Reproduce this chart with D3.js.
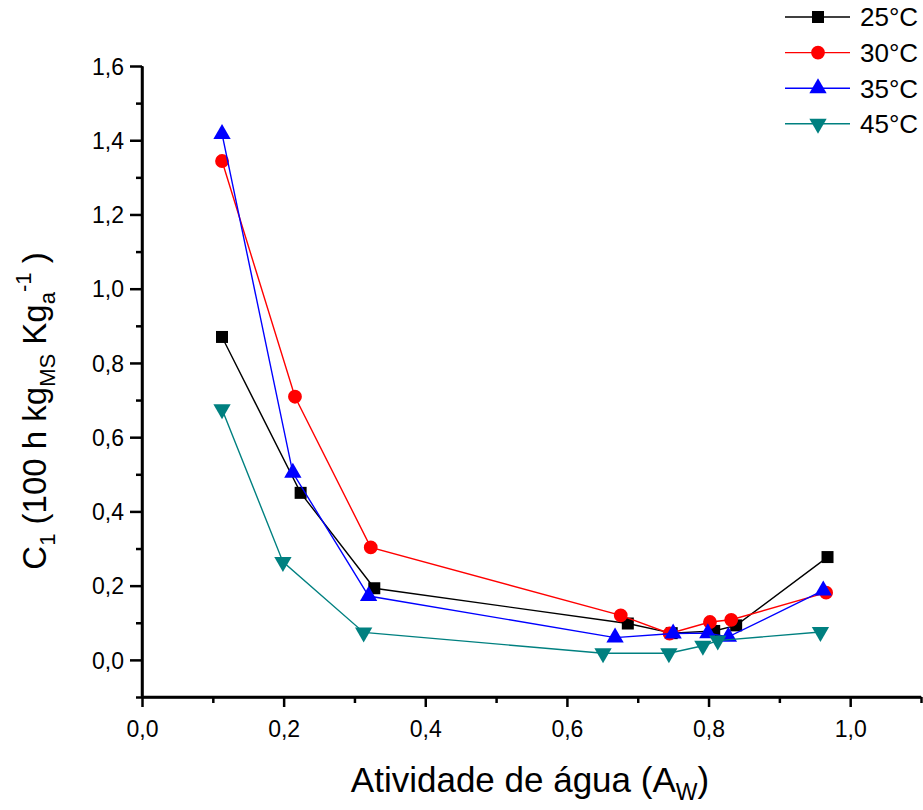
<!DOCTYPE html>
<html>
<head>
<meta charset="utf-8">
<script src="https://cdn.jsdelivr.net/npm/d3@7"></script>
<style>
  body { margin: 0; background: #fff; }
  svg { font-family: Arial, "Liberation Sans", sans-serif; }
</style>
</head>
<body>
<div id="chart"></div>
<script>
// data
const seriesNames = ["25°C", "30°C", "35°C", "45°C"];
const seriesColors = ["#000000", "#ff0000", "#0000ff", "#008080"];

const aw25 = [0.113, 0.224, 0.328, 0.686, 0.748, 0.808, 0.839, 0.968];
const c25 = [0.870, 0.450, 0.193, 0.098, 0.072, 0.078, 0.093, 0.277];
const aw30 = [0.113, 0.216, 0.323, 0.676, 0.745, 0.802, 0.832, 0.966];
const c30 = [1.344, 0.709, 0.303, 0.120, 0.071, 0.102, 0.108, 0.181];
const aw35 = [0.113, 0.213, 0.320, 0.668, 0.750, 0.799, 0.828, 0.962];
const c35 = [1.417, 0.504, 0.172, 0.060, 0.071, 0.072, 0.062, 0.187];
const aw45 = [0.113, 0.199, 0.313, 0.651, 0.744, 0.792, 0.813, 0.958];
const c45 = [0.675, 0.264, 0.074, 0.018, 0.018, 0.038, 0.052, 0.075];

const xTicks = [0, 0.2, 0.4, 0.6, 0.8, 1.0];
const yTicks = [0, 0.2, 0.4, 0.6, 0.8, 1.0, 1.2, 1.4, 1.6];

const svgWidth = 923;
const svgHeight = 810;

const margin = { top: 66, right: 2, bottom: 113, left: 142 };
const width = svgWidth - margin.left - margin.right;
const height = svgHeight - margin.top - margin.bottom;

const svg = d3.select("#chart")
  .append("svg")
  .attr("width", svgWidth)
  .attr("height", svgHeight);

const chartGroup = svg.append("g")
  .attr("transform", `translate(${margin.left}, ${margin.top})`);

const xScale = d3.scaleLinear().domain([0, 1.1]).range([0, width]);
const yScale = d3.scaleLinear().domain([-0.1, 1.6]).range([height, 0]);

const fmt = d => d3.format(".1f")(d).replace(".", ",");

// x axis: major ticks with labels, minor ticks in between
const xAxis = chartGroup.append("g")
  .attr("transform", `translate(0, ${height})`)
  .call(d3.axisBottom(xScale).tickValues(xTicks).tickFormat(fmt)
    .tickSizeInner(10).tickSizeOuter(0).tickPadding(14));
xAxis.append("g")
  .call(d3.axisBottom(xScale).tickValues(d3.range(1, 12, 2).map(d => d / 10))
    .tickFormat("").tickSizeInner(6).tickSizeOuter(0));

const yAxis = chartGroup.append("g")
  .call(d3.axisLeft(yScale).tickValues(yTicks).tickFormat(fmt)
    .tickSizeInner(12).tickSizeOuter(0).tickPadding(6));
yAxis.append("g")
  .call(d3.axisLeft(yScale).tickValues([-0.1, 0.1, 0.3, 0.5, 0.7, 0.9, 1.1, 1.3, 1.5])
    .tickFormat("").tickSizeInner(6).tickSizeOuter(0));

chartGroup.selectAll(".domain").attr("stroke", "#000").attr("stroke-width", 2.5);
chartGroup.selectAll(".tick line").attr("stroke", "#000").attr("stroke-width", 2.5);
chartGroup.selectAll(".tick text")
  .attr("fill", "#000")
  .style("font-size", "23px")
  .style("font-family", "Arial, 'Liberation Sans', sans-serif");
yAxis.selectAll(".tick text").attr("dy", "0.36em");
yAxis.select(".domain").attr("d", `M0,${height}V0`);
xAxis.select(".domain").attr("d", `M0,0H${width}`);

// markers
const symbols = [
  d3.symbol().type(d3.symbolSquare).size(144),
  d3.symbol().type(d3.symbolCircle).size(150),
  d3.symbol().type(d3.symbolTriangle).size(130),
  d3.symbol().type(d3.symbolTriangle).size(130)
];
const rotations = [0, 0, 0, 180];

const allSeries = [
  aw25.map((x, i) => ({ x: x, y: c25[i] })),
  aw30.map((x, i) => ({ x: x, y: c30[i] })),
  aw35.map((x, i) => ({ x: x, y: c35[i] })),
  aw45.map((x, i) => ({ x: x, y: c45[i] }))
];

const line = d3.line().x(d => xScale(d.x)).y(d => yScale(d.y));

allSeries.forEach(function (data, s) {
  chartGroup.append("path")
    .datum(data)
    .attr("d", line)
    .attr("fill", "none")
    .attr("stroke", seriesColors[s])
    .attr("stroke-width", 1.4);

  chartGroup.selectAll(null)
    .data(data)
    .enter()
    .append("path")
    .attr("d", symbols[s])
    .attr("transform", d => `translate(${xScale(d.x)}, ${yScale(d.y)}) rotate(${rotations[s]})`)
    .attr("fill", seriesColors[s]);
});

// legend
const legend = svg.append("g").attr("transform", "translate(785, 17)");
seriesNames.forEach(function (name, s) {
  const row = legend.append("g").attr("transform", `translate(0, ${s * 35.6})`);
  row.append("line")
    .attr("x1", 0).attr("x2", 65)
    .attr("stroke", seriesColors[s])
    .attr("stroke-width", 1.4);
  row.append("path")
    .attr("d", symbols[s])
    .attr("transform", `translate(33, 0) rotate(${rotations[s]})`)
    .attr("fill", seriesColors[s]);
  row.append("text")
    .attr("x", 75)
    .attr("dy", "0.36em")
    .style("font-size", "26px")
    .text(name);
});

// axis titles
const xTitle = svg.append("text")
  .attr("x", 530)
  .attr("y", 792)
  .attr("text-anchor", "middle")
  .style("font-size", "35px");
xTitle.append("tspan").text("Atividade de água (A");
xTitle.append("tspan").attr("dy", 8).style("font-size", "23px").text("W");
xTitle.append("tspan").attr("dy", -8).text(")");

const yTitle = svg.append("text")
  .attr("transform", "translate(46, 411) rotate(-90)")
  .attr("text-anchor", "middle")
  .style("font-size", "33px");
yTitle.append("tspan").text("C");
yTitle.append("tspan").attr("dy", 9).style("font-size", "22px").text("1");
yTitle.append("tspan").attr("dy", -9).text(" (100 h kg");
yTitle.append("tspan").attr("dy", 9).style("font-size", "22px").text("MS");
yTitle.append("tspan").attr("dy", -9).text("  Kg");
yTitle.append("tspan").attr("dy", 9).style("font-size", "22px").text("a");
yTitle.append("tspan").attr("dy", -24).style("font-size", "22px").text("-1");
yTitle.append("tspan").attr("dy", 15).text(" )");
</script>
</body>
</html>
